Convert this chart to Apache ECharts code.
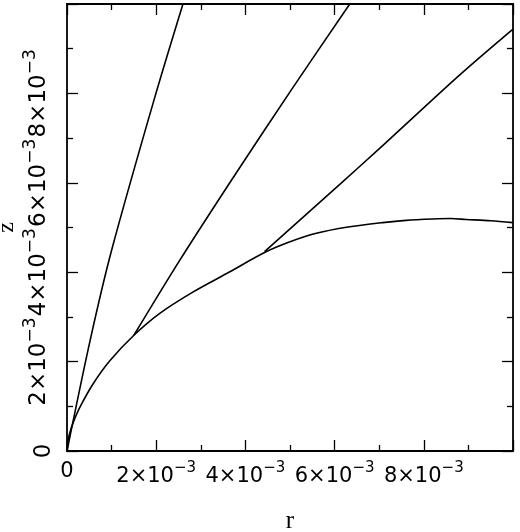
<!DOCTYPE html>
<html>
<head>
<meta charset="utf-8">
<script src="https://cdn.jsdelivr.net/npm/echarts@6/dist/echarts.min.js"></script>
<style>html,body{margin:0;padding:0;background:#fff}#c{width:520px;height:532px}</style>
</head>
<body>
<div id="c"></div>
<script>
// Values (units of 1e-3)
const curveR = [0, 0.02, 0.06, 0.14, 0.29, 0.59, 0.96, 1.50, 2.08, 2.83, 3.58, 4.43, 5.00, 5.59, 6.30, 7.08, 7.60, 8.20, 8.60, 8.95, 9.50, 10.0];
const curveZ = [0, 0.22, 0.40, 0.64, 0.98, 1.51, 2.02, 2.59, 3.08, 3.56, 3.97, 4.44, 4.68, 4.87, 5.01, 5.11, 5.16, 5.19, 5.20, 5.18, 5.15, 5.11];
const line1R = [0, 0.52, 1.00, 1.95, 2.60];
const line1Z = [0, 2.48, 4.49, 7.85, 10.0];
const line2R = [1.50, 2.53, 3.76, 5.03, 6.34];
const line2Z = [2.59, 4.27, 6.17, 8.08, 10.0];
const line3R = [4.43, 6.11, 7.01, 8.80, 10.0];
const line3Z = [4.46, 5.96, 6.77, 8.41, 9.44];
const tickMantissas = ['0', '2', '4', '6', '8'];
const unit = 1e-3;

function pts(rs, zs) { return rs.map((r, i) => [r * unit, zs[i] * unit]); }

function fmt(v) {
  const m = Math.round(v / unit);
  if (m === 0) return tickMantissas[0];
  const s = String(m);
  if (tickMantissas.indexOf(s) < 0) return '';
  return '{b|' + s + '×10}{s|−3}';
}

const black = '#000';
function richFor(size) {
  return {
    b: { fontFamily: 'DejaVu Sans', fontSize: size, color: black },
    s: { fontFamily: 'DejaVu Sans', fontSize: Math.round(size * 0.72), color: black, padding: [0, 0, Math.round(size * 0.75), 0] }
  };
}

const tickCommon = { show: true, inside: true, length: 11, lineStyle: { color: black, width: 1.3 } };
const minorCommon = { show: true, splitNumber: 2, length: 6, lineStyle: { color: black, width: 1.3 } };
const lineCommon = { show: true, onZero: false, lineStyle: { color: black, width: 1.8 } };

const chart = echarts.init(document.getElementById('c'), null, { renderer: 'canvas' });
chart.setOption({
  backgroundColor: '#fff',
  animation: false,
  grid: { left: 67, right: 7, top: 4, bottom: 81, containLabel: false, outerBoundsMode: 'none' },
  xAxis: [
    {
      type: 'value', min: 0, max: 0.01, interval: 0.002, position: 'bottom',
      axisLine: lineCommon, axisTick: tickCommon, minorTick: minorCommon,
      splitLine: { show: false },
      axisLabel: {
        show: true, margin: 10, showMaxLabel: false, formatter: fmt,
        fontFamily: 'DejaVu Sans', fontSize: 21, color: black, rich: richFor(21)
      },
      name: 'r', nameLocation: 'middle', nameGap: 58, nameMoveOverlap: false,
      nameTextStyle: { fontFamily: 'Liberation Serif', fontSize: 25, color: black }
    },
    {
      type: 'value', min: 0, max: 0.01, interval: 0.002, position: 'top',
      axisLine: lineCommon, axisTick: tickCommon, minorTick: minorCommon,
      splitLine: { show: false }, axisLabel: { show: false }
    }
  ],
  yAxis: [
    {
      type: 'value', min: 0, max: 0.01, interval: 0.002, position: 'left',
      axisLine: lineCommon, axisTick: tickCommon, minorTick: minorCommon,
      splitLine: { show: false },
      axisLabel: {
        show: true, margin: 11, rotate: 90, showMaxLabel: false, formatter: fmt,
        fontFamily: 'DejaVu Sans', fontSize: 23, color: black, rich: richFor(23)
      },
      name: 'z', nameLocation: 'middle', nameGap: 48, nameRotate: 90, nameMoveOverlap: false,
      nameTextStyle: { fontFamily: 'Liberation Serif', fontSize: 24, color: black }
    },
    {
      type: 'value', min: 0, max: 0.01, interval: 0.002, position: 'right',
      axisLine: lineCommon, axisTick: tickCommon, minorTick: minorCommon,
      splitLine: { show: false }, axisLabel: { show: false }
    }
  ],
  series: [
    { type: 'line', data: pts(curveR, curveZ), smooth: 0.3, showSymbol: false, lineStyle: { color: black, width: 1.6 }, clip: true },
    { type: 'line', data: pts(line1R, line1Z), smooth: 0.3, showSymbol: false, lineStyle: { color: black, width: 1.6 }, clip: true },
    { type: 'line', data: pts(line2R, line2Z), smooth: 0.3, showSymbol: false, lineStyle: { color: black, width: 1.6 }, clip: true },
    { type: 'line', data: pts(line3R, line3Z), smooth: 0.3, showSymbol: false, lineStyle: { color: black, width: 1.6 }, clip: true }
  ]
});
</script>
</body>
</html>
